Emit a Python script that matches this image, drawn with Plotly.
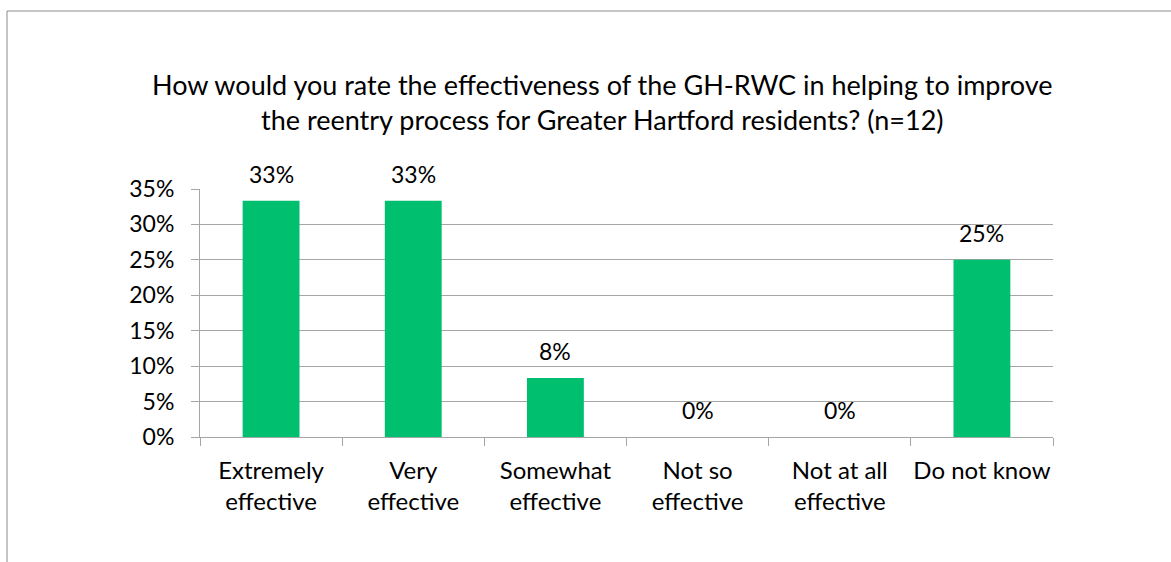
import plotly.graph_objects as go

categories = ["Extremely<br>effective", "Very<br>effective", "Somewhat<br>effective",
              "Not so<br>effective", "Not at all<br>effective", "Do not know"]
values = [0.3333, 0.3333, 0.0833, 0.0, 0.0, 0.25]
labels = ["33%", "33%", "8%", "0%", "0%", "25%"]
title_text = ("How would you rate the effectiveness of the GH-RWC in helping to improve<br>"
              "the reentry process for Greater Hartford residents? (n=12)")

FONT = "Lato"
W, H = 1171, 562
L, R, T, B = 200, 1053, 189, 437
pw, ph = R - L, B - T

def px(x):
    return (x - L) / pw

def py(y):
    return (B - y) / ph

fig = go.Figure(go.Bar(
    x=categories, y=values,
    marker=dict(color="#00C070", line=dict(width=0)),
    cliponaxis=False, width=0.4, hoverinfo="skip",
))

data_labels = [dict(x=c, y=v, text=t, xref="x", yref="y", showarrow=False,
                    xanchor="center", yanchor="middle", yshift=27,
                    font=dict(family=FONT, size=23, color="black"))
               for c, v, t in zip(categories, values, labels)]

fig.update_layout(
    width=W, height=H,
    margin=dict(l=L, r=W - R, t=T, b=H - B, autoexpand=False),
    plot_bgcolor="white", paper_bgcolor="white",
    showlegend=False,
    font=dict(family=FONT, size=24, color="black"),
    yaxis=dict(range=[0, 0.35], dtick=0.05, tickformat=".0%",
               showgrid=True, gridcolor="#A6A6A6", gridwidth=1,
               showline=True, linecolor="#A6A6A6", linewidth=1,
               ticks="outside", ticklen=8, tickcolor="#A6A6A6",
               ticklabelstandoff=12,
               zeroline=False, fixedrange=True,
               tickfont=dict(family=FONT, size=23, color="black")),
    xaxis=dict(showline=True, linecolor="#A6A6A6", linewidth=1,
               ticks="outside", ticklen=8, tickcolor="#A6A6A6",
               tickson="boundaries", showgrid=False, tickangle=0,
               ticklabelstandoff=12,
               tickfont=dict(family=FONT, size=24, color="black")),
    annotations=data_labels + [dict(text=title_text, xref="paper", yref="paper",
                      x=px(602), y=py(66), xanchor="center", yanchor="top",
                      showarrow=False,
                      font=dict(family=FONT, size=27, color="black"))],
    shapes=[dict(type="rect", xref="paper", yref="paper",
                 x0=px(7), x1=px(1200), y0=py(600), y1=py(11),
                 line=dict(color="#8C8C8C", width=1), layer="below")],
)

fig.write_html("out.html")
